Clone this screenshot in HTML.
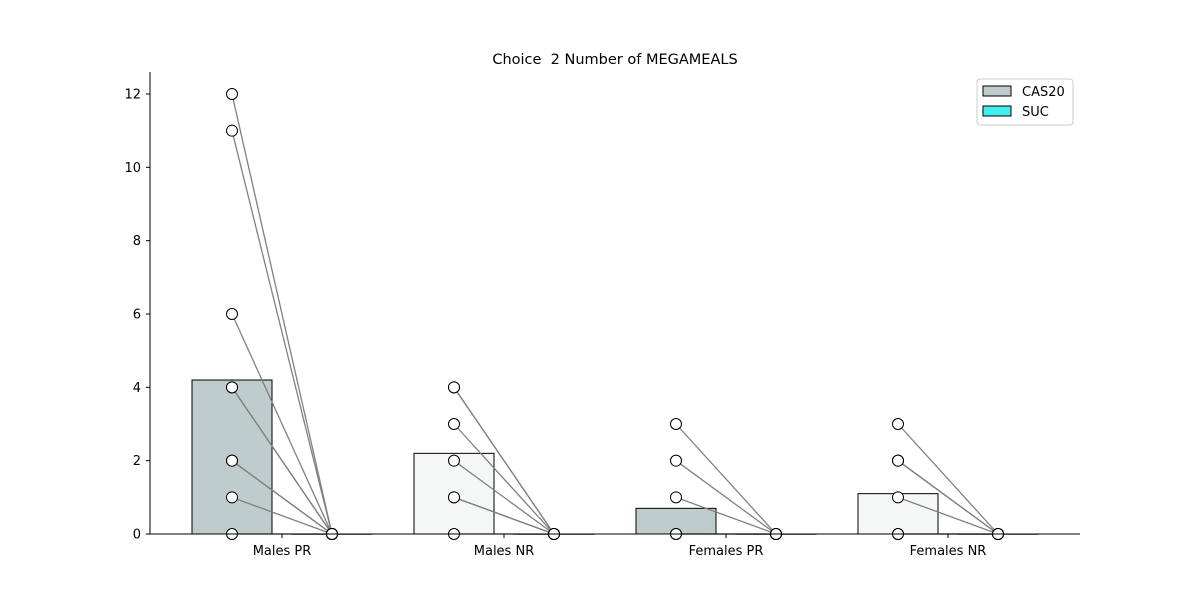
<!DOCTYPE html>
<html><head><meta charset="utf-8"><style>
body{margin:0;background:#fff;}
svg{font-family:"DejaVu Sans","Liberation Sans",sans-serif;}
</style></head><body>
<svg id="chart" width="1200" height="600" xmlns="http://www.w3.org/2000/svg">
<rect width="1200" height="600" fill="#fff"/>
<text x="615" y="64" text-anchor="middle" font-size="14.5" style="white-space:pre">Choice  2 Number of MEGAMEALS</text>
<g id="plot"></g>
<g>
<rect x="977" y="79" width="96" height="46" rx="3" fill="#fff" stroke="#ccc"/>
<rect x="983" y="86" width="28" height="10" fill="#bfcccc" stroke="#000"/>
<text x="1022" y="96" font-size="13">CAS20</text>
<rect x="983" y="106" width="28" height="10" fill="#40eeee" stroke="#000"/>
<text x="1022" y="116" font-size="13">SUC</text>
</g>
</svg>
<script>
const categories=["Males PR","Males NR","Females PR","Females NR"];
const cas20Means=[4.2,2.2,0.7,1.1];
const sucMeans=[0,0,0,0];
const cas20Colors=["#bfcccc","#f5f7f6","#bfcccc","#f5f7f6"];
const cas20Points=[[12,11,6,4,4,2,2,1,0],[4,4,3,2,1,1,0],[3,2,1,0,0],[3,2,2,1,0,0]];
const sucPoints=[[0,0,0,0,0,0,0,0,0],[0,0,0,0,0,0,0],[0,0,0,0,0],[0,0,0,0,0,0]];
const yTicks=[0,2,4,6,8,10,12];
const NS="http://www.w3.org/2000/svg";
const g=document.getElementById('plot');
const y=v=>534-v*(440/12);
const xc=i=>282+i*222;
function mk(t,a){const e=document.createElementNS(NS,t);for(const k in a)e.setAttribute(k,a[k]);g.appendChild(e);return e;}
categories.forEach((c,i)=>{
  const b=mk('rect',{x:xc(i)-90,y:y(cas20Means[i]),width:80,height:y(0)-y(cas20Means[i]),fill:cas20Colors[i],stroke:'#000'});
  
  
  const s=mk('rect',{x:xc(i)+10,y:y(sucMeans[i]),width:80,height:Math.max(0.5,y(0)-y(sucMeans[i])),fill:'#40eeee',stroke:'#888'});
  
  
  cas20Points[i].forEach((v,j)=>{
    const l=mk('line',{x1:xc(i)-50,y1:y(v),x2:xc(i)+50,y2:y(sucPoints[i][j]),stroke:'#808080','stroke-width':1.3});
    
    
  });
  cas20Points[i].forEach((v,j)=>{
    const p=mk('circle',{cx:xc(i)-50,cy:y(v),r:5.5,fill:'#fff',stroke:'#000'});
    
    
    const q=mk('circle',{cx:xc(i)+50,cy:y(sucPoints[i][j]),r:5.5,fill:'#fff',stroke:'#000'});
    
    
  });
  const t=mk('text',{x:xc(i),y:555,'text-anchor':'middle','font-size':13});
  t.textContent=c;
  
  
  mk('line',{x1:xc(i),y1:534,x2:xc(i),y2:538,stroke:'#000'});
});
yTicks.forEach(v=>{
  mk('line',{x1:146,y1:y(v),x2:150,y2:y(v),stroke:'#000'});
  const t=mk('text',{x:141,y:y(v)+4.5,'text-anchor':'end','font-size':13});
  t.textContent=v;
  
  
});
const ax=mk('line',{x1:150,y1:72,x2:150,y2:534,stroke:'#000'});


const bx=mk('line',{x1:150,y1:534,x2:1080,y2:534,stroke:'#000'});


</script>
</body></html>
